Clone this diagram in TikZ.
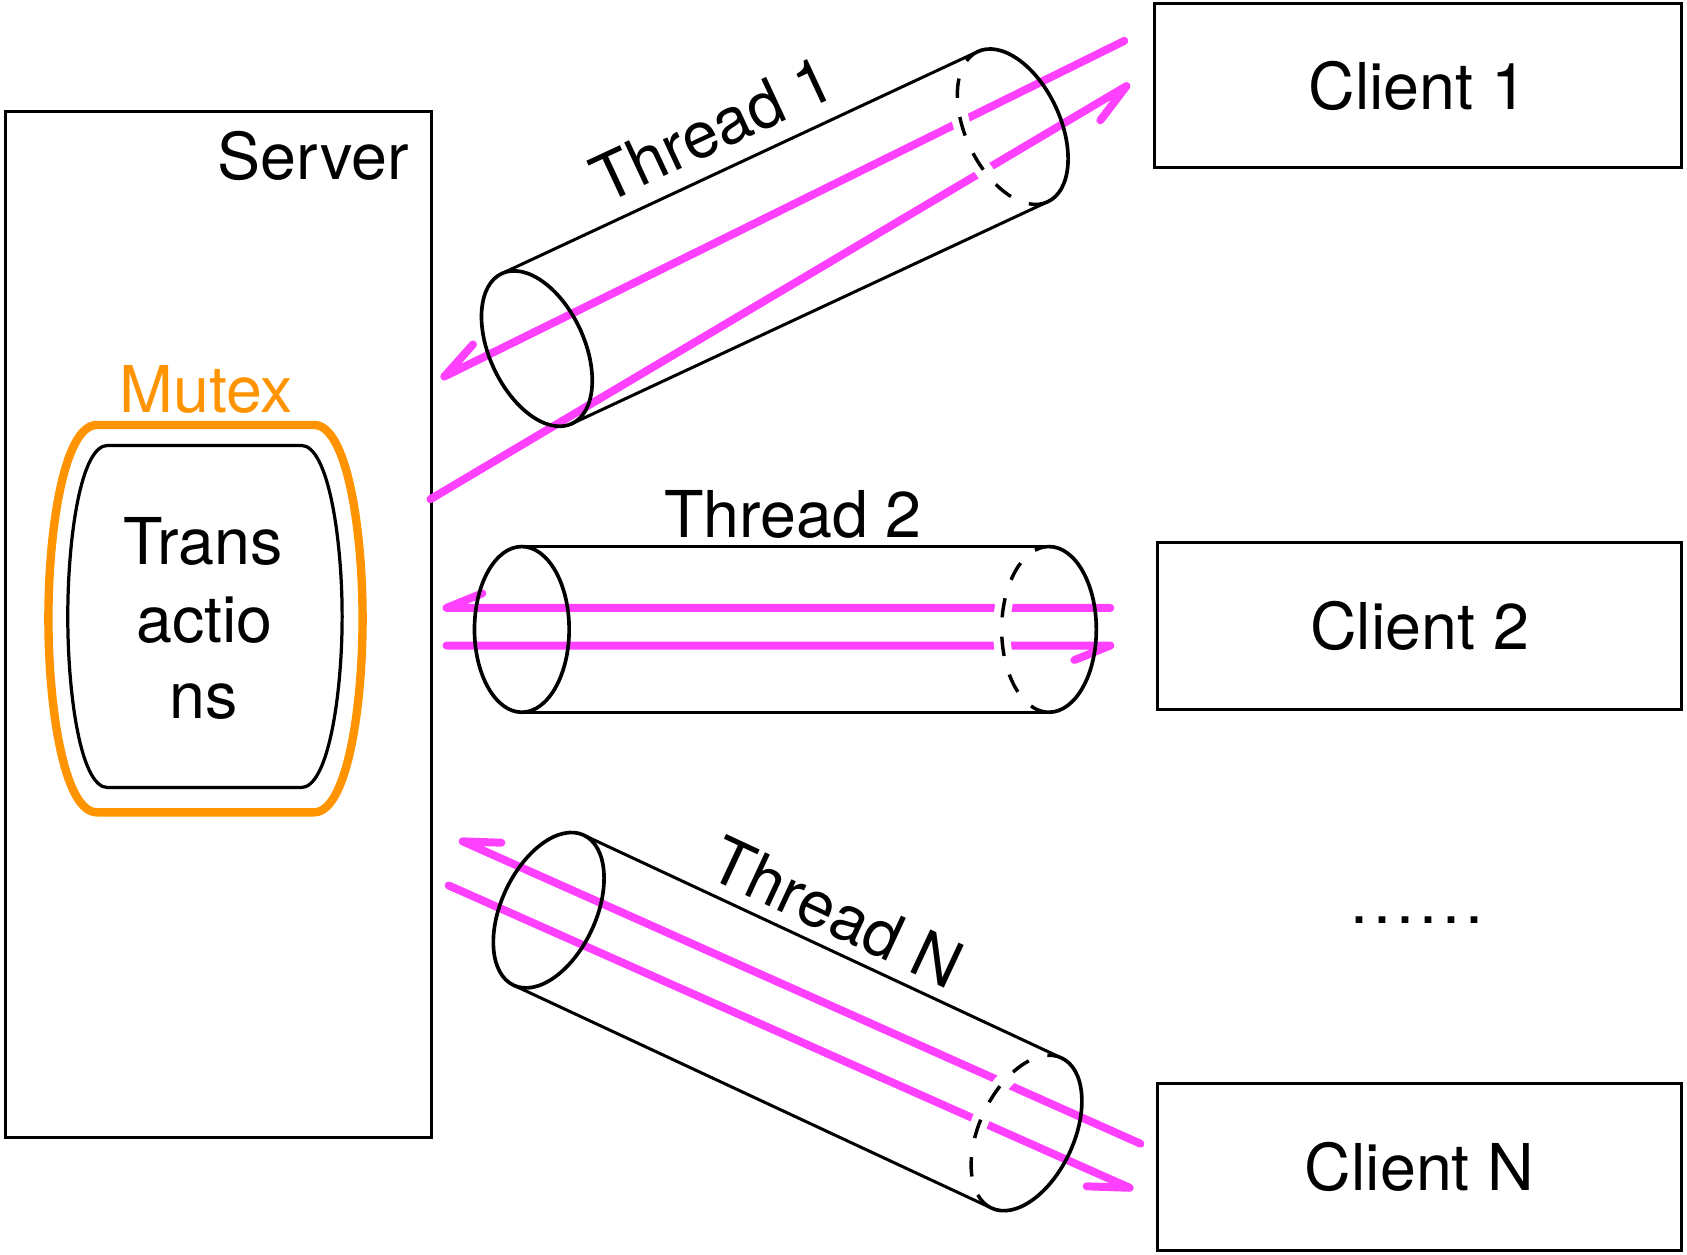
\documentclass[tikz,border=0pt]{standalone}
\usepackage{fontspec}
\setmainfont{TeX Gyre Heros}
\usetikzlibrary{calc}
\definecolor{mag}{RGB}{255,64,255}
\definecolor{orng}{RGB}{255,147,0}
\newcommand\mycyl[3]{%
\begin{scope}[shift={#1}, rotate=#2]
\draw[backwhite] (#3,0) ++(90:44 and 77) arc[start angle=90, end angle=270, x radius=44, y radius=77];
\draw[cylline] (0,-77) -- (#3,-77) (0,77) -- (#3,77);
\draw[cylend] (0,0) ellipse[x radius=44, y radius=77];
\draw[cylend] (#3,0) ++(-90:44 and 77) arc[start angle=-90, end angle=90, x radius=44, y radius=77];
\draw[backdash] (#3,0) ++(90:44 and 77) arc[start angle=90, end angle=270, x radius=44, y radius=77];
\end{scope}}
\begin{document}
\begin{tikzpicture}[x=0.5pt,y=-0.5pt,
  lbl/.style={font=\fontsize{30}{36}\selectfont, inner sep=0pt},
  box/.style={draw, line width=1.4pt, inner sep=0pt},
  mline/.style={draw=mag, line width=3.7pt, line cap=round, line join=round},
  cylline/.style={line width=1.4pt},
  cylend/.style={line width=1.7pt},
  backwhite/.style={draw=white, line width=8pt},
  backdash/.style={line width=1.6pt, dash pattern=on 9pt off 9pt},
]
\useasboundingbox (0,0) rectangle (1568,1166);

% server
\node[box, minimum width=198pt, minimum height=476.5pt] (server) at (203,580.5) {};
\node[lbl, anchor=base] (serverlbl) at (291,167) {Server};

% clients
\node[box, lbl, minimum width=245pt, minimum height=76.5pt] (c1) at (1318,79.5) {Client 1};
\node[box, lbl, minimum width=243.5pt, minimum height=77.5pt] (c2) at (1319.5,581.5) {Client 2};
\node[box, lbl, minimum width=243.5pt, minimum height=77.5pt] (cN) at (1319.5,1084.5) {Client N};
\node[lbl, anchor=base] (dots) at (1317,858) {.\kern2.3pt.\kern2.3pt.\kern2.3pt.\kern2.3pt.\kern2.3pt.};

% mutex and transactions
\draw[draw=orng, line width=3.9pt] (90,395) -- (292,395) .. controls (322,395) and (337,490) .. (337,575) .. controls (337,660) and (322,755) .. (292,755) -- (90,755) .. controls (60,755) and (45,660) .. (45,575) .. controls (45,490) and (60,395) .. (90,395) -- cycle;
\draw[line width=1.5pt] (100,414) -- (280,414) .. controls (305,414) and (318,500) .. (318,573) .. controls (318,646) and (305,732) .. (280,732) -- (100,732) .. controls (75,732) and (63,646) .. (63,573) .. controls (63,500) and (75,414) .. (100,414) -- cycle;
\node[lbl, anchor=base, text=orng] (mutex) at (192,383) {Mutex};
\node[lbl, anchor=base] (tr1) at (189,525) {Trans};
\node[lbl, anchor=base] (tr2) at (190,597) {actio};
\node[lbl, anchor=base] (tr3) at (189,668) {ns};

% magenta message lines
\coordinate (t1a) at (413,350); \coordinate (s1a) at (1045,38);
\coordinate (s1b) at (400,464); \coordinate (t1b) at (1047,80);
\coordinate (t2a) at (415,565); \coordinate (s2a) at (1032,565);
\coordinate (s2b) at (415,600); \coordinate (t2b) at (1032,600);
\coordinate (tNa) at (430,782); \coordinate (sNa) at (1060,1063);
\coordinate (sNb) at (417,823); \coordinate (tNb) at (1050,1104);

\draw[mline] ($(t1a)!20pt!22:(s1a)$) -- (t1a) -- (s1a);
\draw[mline] (s1b) -- (t1b) -- ($(t1b)!20pt!22:(s1b)$);
\draw[mline] ($(t2a)!18pt!22:(s2a)$) -- (t2a) -- (s2a);
\draw[mline] (s2b) -- (t2b) -- ($(t2b)!18pt!22:(s2b)$);
\draw[mline] ($(tNa)!18pt!22:(sNa)$) -- (tNa) -- (sNa);
\draw[mline] (sNb) -- (tNb) -- ($(tNb)!20pt!22:(sNb)$);

% cylinders
\mycyl{(499,324)}{25}{488}
\mycyl{(485,585)}{0}{490}
\mycyl{(510,846)}{-25}{490}

% thread labels
\node[lbl, rotate=25] (th1) at (662,120) {Thread 1};
\node[lbl, anchor=base] (th2) at (737,500) {Thread 2};
\node[lbl, rotate=-25] (thN) at (778,848) {Thread N};
\end{tikzpicture}
\end{document}
